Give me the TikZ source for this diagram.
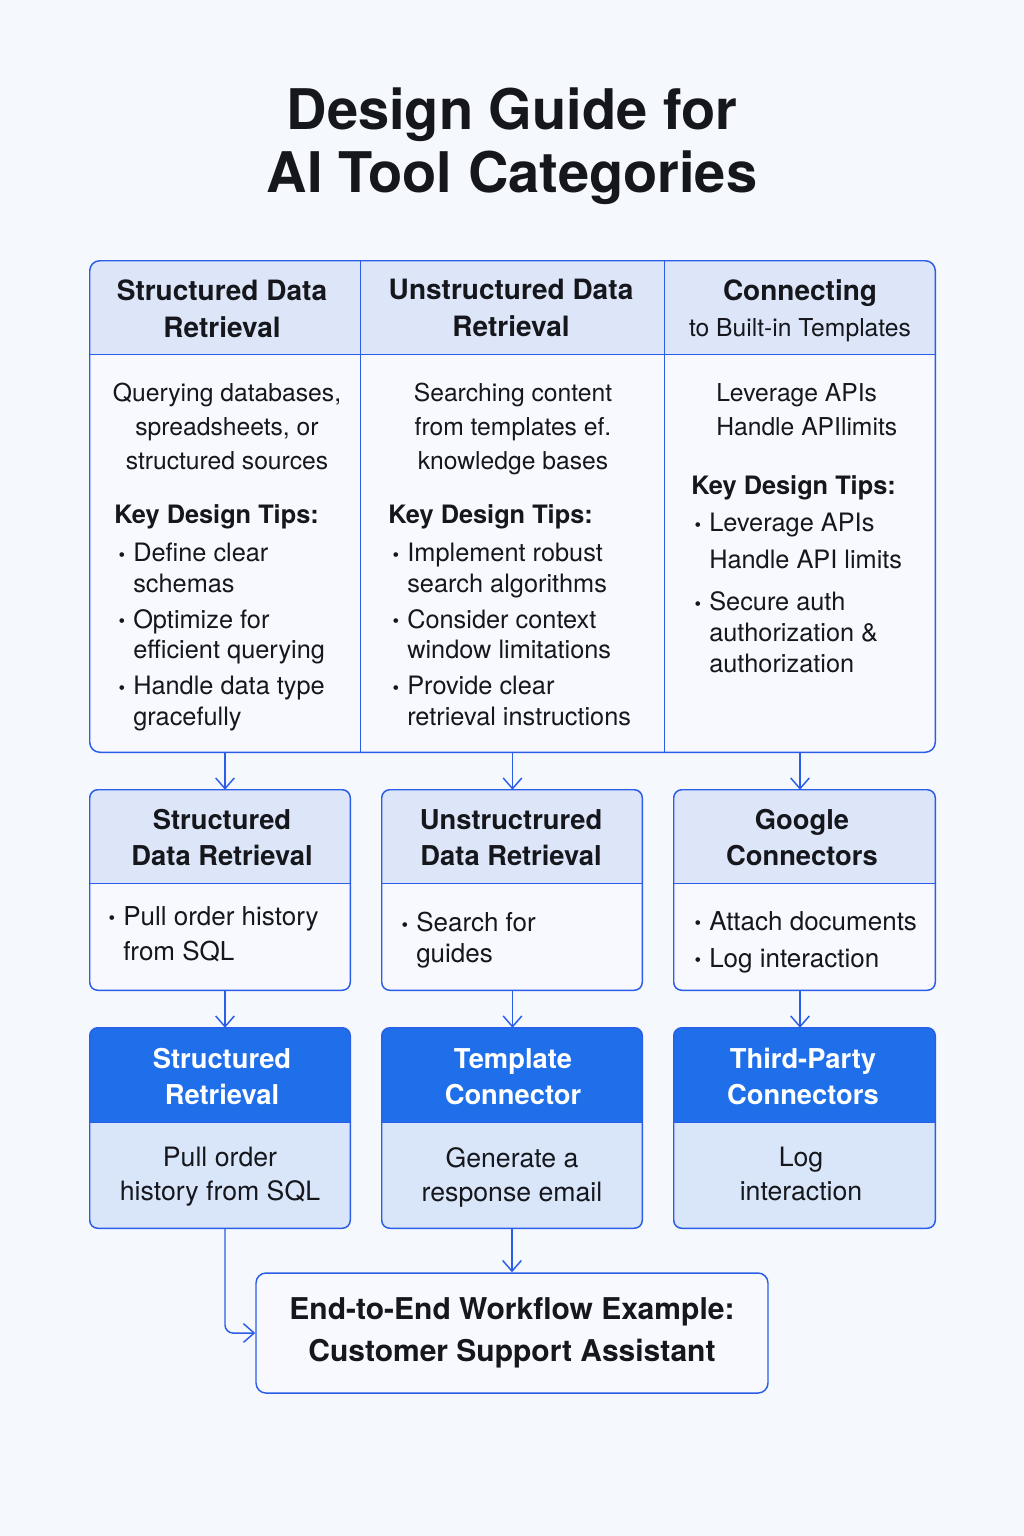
\documentclass[tikz,border=0pt]{standalone}
\usepackage{fontspec}
\setmainfont{TeX Gyre Heros}
\usetikzlibrary{arrows.meta,positioning}

\definecolor{pagebg}{HTML}{F5F8FC}
\definecolor{lineblue}{HTML}{2A5DE8}
\definecolor{headlight}{HTML}{DCE6F8}
\definecolor{headblue}{HTML}{1F6FEB}
\definecolor{bodylight}{HTML}{D9E5F9}
\definecolor{bodywhite}{HTML}{F7F9FE}
\definecolor{inkdark}{HTML}{15171C}

\newcommand{\tipbullet}{\llap{\raisebox{0.5pt}{\fontsize{14}{14}\selectfont\textbullet}\hspace{6pt}}}

% card: rounded box, header band on top
\newcommand{\cardshape}[4]{%
  \fill[#3, rounded corners=6pt] (#1.north west) rectangle (#1.south east);
  \begin{scope}
    \clip[rounded corners=6pt] (#1.north west) rectangle (#1.south east);
    \fill[#2] (#1.north west) rectangle ([yshift=-#4]#1.north east);
  \end{scope}
  \draw[edge] ([yshift=-#4]#1.north west) -- ([yshift=-#4]#1.north east);
  \draw[edge, rounded corners=6pt] (#1.north west) rectangle (#1.south east);}

\begin{document}
\begin{tikzpicture}[x=0.75pt, y=-0.75pt,
        edge/.style={draw=lineblue, line width=1.1pt},
        flow/.style={lineblue, line width=1.1pt, -{Straight Barb[length=8pt, width=14pt]}},
        colslot/.style n args={2}{inner sep=0pt, minimum width=#1*0.75pt, minimum height=#2*0.75pt},
        txt/.style={inner sep=0pt, text=inkdark, execute at begin node=\strut},
        titletxt/.style={txt, font=\fontsize{42}{47.25}\selectfont\bfseries, align=center, anchor=north},
        headtxt/.style={txt, font=\fontsize{21}{27.75}\selectfont\bfseries, align=center, anchor=north},
        bodytxt/.style={txt, font=\fontsize{18.5}{25.5}\selectfont, align=center, anchor=north},
        keytxt/.style={inner sep=0pt, text=inkdark, font=\fontsize{19}{23}\selectfont\bfseries, anchor=base west},
        tiptxt/.style={txt, font=\fontsize{19}{23}\selectfont, align=left, anchor=north west},
        cardhead/.style={txt, font=\fontsize{20.5}{27}\selectfont\bfseries, align=center, anchor=north},
        cardbody/.style={txt, font=\fontsize{20}{25.5}\selectfont, align=center, anchor=north}
    ]
    \fill[pagebg] (0,0) rectangle (1024,1536);
    \useasboundingbox (0,0) rectangle (1024,1536);

    \node[titletxt] (title) at (512,88) {Design Guide for\\AI Tool Categories};

    % top table, three columns
    \node[colslot={270}{491}] (col-structured) at (225,506.5) {};
    \node[colslot={305}{491}] (col-unstructured) at (512.5,506.5) {};
    \node[colslot={270}{491}] (col-connecting) at (800,506.5) {};
    \fill[bodywhite, rounded corners=7.5pt] (col-structured.north west) rectangle (col-connecting.south east);
    \begin{scope}
        \clip[rounded corners=7.5pt] (col-structured.north west) rectangle (col-connecting.south east);
        \fill[headlight] (col-structured.north west) rectangle ([yshift=-70.5pt]col-connecting.north east);
    \end{scope}
    \draw[edge] ([yshift=-70.5pt]col-structured.north west) -- ([yshift=-70.5pt]col-connecting.north east);
    \draw[edge] (col-structured.north east) -- (col-structured.south east);
    \draw[edge] (col-connecting.north west) -- (col-connecting.south west);
    \draw[edge, rounded corners=7.5pt] (col-structured.north west) rectangle (col-connecting.south east);

    \node[headtxt] (head-structured) at (222,279) {Structured Data\\Retrieval};
    \node[headtxt] (head-unstructured) at (511,279) {Unstructured Data\\Retrieval};
    \node[headtxt] (head-connecting) at (800,274) {Connecting};
    \node[inner sep=0pt, text=inkdark, font=\fontsize{18.5}{20}\selectfont, anchor=base] (sub-connecting) at (800,336) {to Built-in Templates};

    \node[bodytxt] (desc-structured) at (227,383) {Querying databases,\\spreadsheets, or\\structured sources};
    \node[bodytxt] (desc-unstructured) at (513,383) {Searching content\\from templates ef.\\knowledge bases};
    \node[bodytxt, align=left, anchor=north west] (desc-connecting) at (716,383) {Leverage APIs\\Handle APIlimits};

    \node[keytxt] (key-structured) at (114,523) {Key Design Tips:};
    \node[keytxt] (key-unstructured) at (388,523) {Key Design Tips:};
    \node[keytxt] (key-connecting) at (691,494) {Key Design Tips:};

    \node[tiptxt] (tip-s1) at (133,543) {\tipbullet Define clear\\schemas};
    \node[tiptxt] (tip-s2) at (133,609) {\tipbullet Optimize for\\efficient querying};
    \node[tiptxt] (tip-s3) at (133,676) {\tipbullet Handle data type\\gracefully};
    \node[tiptxt] (tip-u1) at (407,543) {\tipbullet Implement robust\\search algorithms};
    \node[tiptxt] (tip-u2) at (407,609) {\tipbullet Consider context\\window limitations};
    \node[tiptxt] (tip-u3) at (407,676) {\tipbullet Provide clear\\retrieval instructions};
    \node[tiptxt, font=\fontsize{19}{27.75}\selectfont] (tip-c1) at (709,513) {\tipbullet Leverage APIs\\Handle API limits};
    \node[tiptxt] (tip-c2) at (709,591.5) {\tipbullet Secure auth\\authorization \&\\authorization};

    % middle cards
    \node[colslot={260}{200}] (mid-structured) at (220,890) {};
    \node[colslot={260}{200}] (mid-unstructured) at (512,890) {};
    \node[colslot={261}{200}] (mid-google) at (804.5,890) {};
    \cardshape{mid-structured}{headlight}{bodywhite}{70.5pt}
    \cardshape{mid-unstructured}{headlight}{bodywhite}{70.5pt}
    \cardshape{mid-google}{headlight}{bodywhite}{70.5pt}

    \node[cardhead] (mhead-structured) at (222,809) {Structured\\Data Retrieval};
    \node[cardhead] (mhead-unstructured) at (511,809) {Unstructrured\\Data Retrieval};
    \node[cardhead] (mhead-google) at (802,809) {Google\\Connectors};
    \node[tiptxt, font=\fontsize{19.5}{26.25}\selectfont] (mtip-structured) at (123,906) {\tipbullet Pull order history\\from SQL};
    \node[tiptxt, font=\fontsize{19.5}{23.25}\selectfont] (mtip-unstructured) at (416,912) {\tipbullet Search for\\guides};
    \node[keytxt, font=\fontsize{19.5}{23}\selectfont] (mtip-google1) at (709,930) {\tipbullet Attach documents};
    \node[keytxt, font=\fontsize{19.5}{23}\selectfont] (mtip-google2) at (709,967) {\tipbullet Log interaction};

    % bottom cards
    \node[colslot={260}{200}] (bot-structured) at (220,1128) {};
    \node[colslot={260}{200}] (bot-template) at (512,1128) {};
    \node[colslot={261}{200}] (bot-thirdparty) at (804.5,1128) {};
    \cardshape{bot-structured}{headblue}{bodylight}{71.25pt}
    \cardshape{bot-template}{headblue}{bodylight}{71.25pt}
    \cardshape{bot-thirdparty}{headblue}{bodylight}{71.25pt}

    \node[cardhead, text=white] (bhead-structured) at (222,1048) {Structured\\Retrieval};
    \node[cardhead, text=white] (bhead-template) at (513,1048) {Template\\Connector};
    \node[cardhead, text=white] (bhead-thirdparty) at (803,1048) {Third-Party\\Connectors};
    \node[cardbody] (bbody-structured) at (220,1147) {Pull order\\history from SQL};
    \node[cardbody] (bbody-template) at (512,1147) {Generate a\\response email};
    \node[cardbody] (bbody-thirdparty) at (801,1147) {Log\\interaction};

    \node[draw=lineblue, line width=1.1pt, fill=bodywhite, rounded corners=7.5pt,
          minimum width=384pt, minimum height=90pt, align=center, text=inkdark,
          font=\fontsize{22.5}{31.5}\selectfont\bfseries] (workflow) at (512,1333)
        {End-to-End Workflow Example:\\Customer Support Assistant};

    \draw[flow] (col-structured.south) -- (col-structured.south |- mid-structured.north);
    \draw[flow] (col-unstructured.south) -- (col-unstructured.south |- mid-unstructured.north);
    \draw[flow] (col-connecting.south) -- (col-connecting.south |- mid-google.north);
    \draw[flow] (col-structured.south |- mid-structured.south) -- (col-structured.south |- bot-structured.north);
    \draw[flow] (col-unstructured.south |- mid-unstructured.south) -- (col-unstructured.south |- bot-template.north);
    \draw[flow] (col-connecting.south |- mid-google.south) -- (col-connecting.south |- bot-thirdparty.north);
    \draw[flow] (bot-template.south) -- (workflow.north);
    \draw[flow, rounded corners=6pt] (col-structured.south |- bot-structured.south) |- (workflow.west);
\end{tikzpicture}
\end{document}
